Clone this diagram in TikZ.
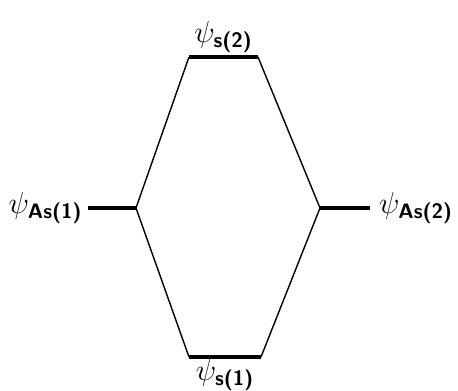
\documentclass[tikz,border=0pt]{standalone}
\usepackage{amsmath}
\usepackage{tikz}
\usetikzlibrary{positioning,calc}

\begin{document}
\begin{tikzpicture}[x=0.02cm,y=-0.02cm,
  level/.style={line width=1.8pt},
  link/.style={line width=0.8pt},
  lab/.style={inner sep=1pt,font=\fontsize{17}{20}\selectfont}]
  \useasboundingbox (0,0) rectangle (458,391);
  % energy levels
  \coordinate (as1l) at (88,208);  \coordinate (as1r) at (136,208);
  \coordinate (s2l)  at (189,57);  \coordinate (s2r)  at (258,57);
  \coordinate (as2l) at (320,208); \coordinate (as2r) at (370,208);
  \coordinate (s1l)  at (189,357); \coordinate (s1r)  at (261,357);
  \draw[level] (as1l) -- (as1r);
  \draw[level] (s2l) -- (s2r);
  \draw[level] (as2l) -- (as2r);
  \draw[level] (s1l) -- (s1r);
  % correlation lines
  \draw[link] (as1r) -- (s2l);
  \draw[link] (as1r) -- (s1l);
  \draw[link] (as2l) -- (s2r);
  \draw[link] (as2l) -- (s1r);
  % labels
  \node[lab,left=2pt of as1l] (lpsias1) {$\psi_{\textsf{\bfseries As(1)}}$};
  \node[lab,above=1pt of $(s2l)!0.5!(s2r)$] (lpsis2) {$\psi_{\textsf{\bfseries s(2)}}$};
  \node[lab,right=4pt of as2r] (lpsias2) {$\psi_{\textsf{\bfseries As(2)}}$};
  \node[lab,below=0pt of $(s1l)!0.5!(s1r)$] (lpsis1) {$\psi_{\textsf{\bfseries s(1)}}$};
\end{tikzpicture}
\end{document}
